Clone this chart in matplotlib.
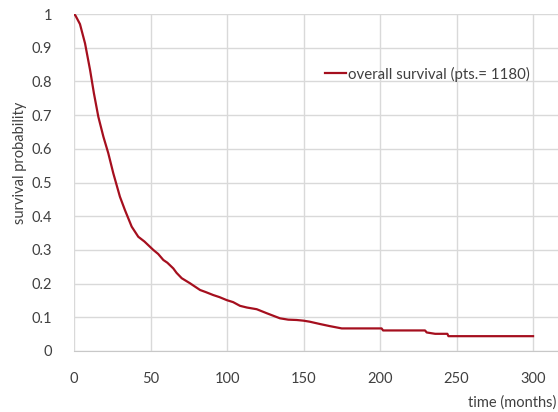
import matplotlib
matplotlib.use("Agg")
import matplotlib.pyplot as plt

# survival curve (months, probability)
months = [0, 1.0, 3.9, 7.2, 10.5, 13, 15.9, 19.2, 22.4, 25.7, 30, 33.3, 37.7, 42,
          46, 51.8, 55, 58.4, 61, 64.9, 67, 70.4, 75.8, 82.4, 86, 91, 95, 99.8, 104,
          108.5, 113, 119.4, 126, 130, 134.6, 140, 145.5, 150, 154, 160.8, 167, 175,
          201, 202, 229.4, 230.5, 236, 244, 244.7, 300]
survival = [1.0, 0.995, 0.97, 0.913, 0.834, 0.765, 0.695, 0.636, 0.587, 0.527, 0.458,
            0.418, 0.369, 0.339, 0.325, 0.30, 0.288, 0.27, 0.262, 0.245, 0.232, 0.216,
            0.201, 0.181, 0.175, 0.166, 0.16, 0.151, 0.145, 0.134, 0.129, 0.124, 0.112,
            0.105, 0.097, 0.093, 0.092, 0.09, 0.087, 0.08, 0.074, 0.067, 0.067, 0.061,
            0.061, 0.055, 0.051, 0.051, 0.044, 0.044]

x_ticks = [0, 50, 100, 150, 200, 250, 300]
y_ticks = [0, 0.1, 0.2, 0.3, 0.4, 0.5, 0.6, 0.7, 0.8, 0.9, 1.0]
y_labels = ["0", "0.1", "0.2", "0.3", "0.4", "0.5", "0.6", "0.7", "0.8", "0.9", "1"]

plt.rcParams['font.family'] = ['Lato', 'DejaVu Sans']
txt = '#404040'
grid = '#D9D9D9'

fig = plt.figure(figsize=(5.58, 4.12), dpi=100)
ax = fig.add_axes([74 / 558, 61 / 412, 1 - 74 / 558, 337 / 412])

ax.plot(months, survival, color='#A50F1E', lw=1.6, label='overall survival (pts.= 1180)')

ax.set_xlim(0, 316.3)
ax.set_ylim(0, 1)
ax.set_xticks(x_ticks)
ax.set_yticks(y_ticks)
ax.set_yticklabels(y_labels)
ax.grid(True, color=grid, lw=1)
ax.set_axisbelow(True)
for s in ['top', 'right', 'left']:
    ax.spines[s].set_visible(False)
ax.spines['bottom'].set_color('#C8C8C8')
ax.tick_params(length=0, labelsize=10.5, labelcolor=txt)
ax.tick_params(axis='x', pad=15)
ax.tick_params(axis='y', pad=16)

fig.text(20 / 558, 1 - 163 / 412, 'survival probability', rotation=90,
         ha='center', va='center', fontsize=10.5, color=txt)
fig.text(556 / 558, 1 - 403 / 412, 'time (months)', ha='right', va='center',
         fontsize=10.5, color=txt)

leg = ax.legend(loc='center left', bbox_to_anchor=((325 - 74) / 484, (351 - 74) / 337),
                frameon=False, fontsize=10.8, handlelength=1.4, handletextpad=0.15,
                borderpad=0, borderaxespad=0)
for t in leg.get_texts():
    t.set_color(txt)

fig.savefig('out.png', dpi=100)
